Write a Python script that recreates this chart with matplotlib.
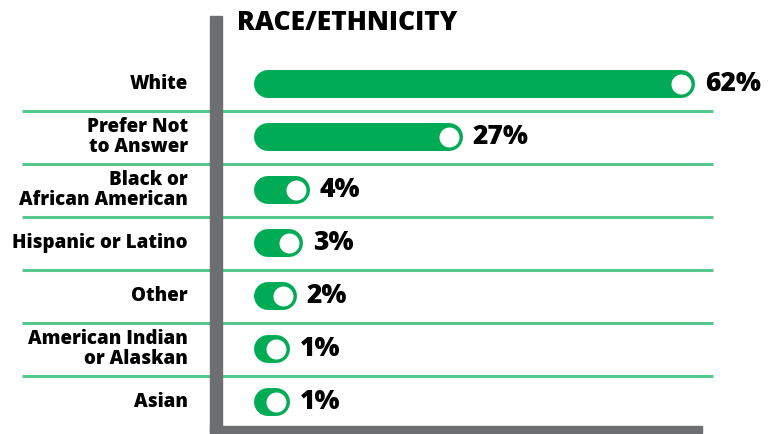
import matplotlib
matplotlib.use("Agg")
import matplotlib.pyplot as plt
from matplotlib.patches import Rectangle

categories = ["White", "Prefer Not\nto Answer", "Black or\nAfrican American",
              "Hispanic or Latino", "Other", "American Indian\nor Alaskan", "Asian"]
values = [62, 27, 4, 3, 2, 1, 1]
value_labels = ["62%", "27%", "4%", "3%", "2%", "1%", "1%"]
title = "RACE/ETHNICITY"

W, H = 782, 434
DPI = 100
GREEN = "#00ab55"
LINE_GREEN = "#55c98d"
GRAY = "#6d6e71"
FONT = ["Open Sans", "DejaVu Sans"]

fig = plt.figure(figsize=(W / DPI, H / DPI), dpi=DPI)
ax = fig.add_axes([0, 0, 1, 1])
ax.set_axis_off()

# scale: px per percent and bar start
k = 6.64
bar_start = -4.42
x_left = bar_start - 254 / k
ax.set_xlim(x_left, x_left + W / k)
row_px = 53.0
top_row_px = 84
ax.set_ylim((H - top_row_px) / row_px, -top_row_px / row_px)

def fx(px):
    return px / W

def fy(py):
    return 1 - py / H

# gray frame
fig.patches.append(Rectangle((fx(210), fy(433)), fx(12), (433 - 16) / H,
                             transform=fig.transFigure, color=GRAY, zorder=1))
fig.patches.append(Rectangle((fx(210), fy(433)), fx(702 - 210), 7 / H,
                             transform=fig.transFigure, color=GRAY, zorder=1))

# separators
ytr = ax.get_yaxis_transform()
for i in range(len(categories) - 1):
    ax.plot([fx(22), fx(713)], [i + 0.5, i + 0.5], transform=ytr,
            color=LINE_GREEN, lw=2.2, solid_capstyle="butt", zorder=3)

# bars
r = 14 / k  # cap radius in data units
bar_lw = 28 * 72 / DPI
for i, (v, lab) in enumerate(zip(values, value_labels)):
    x0 = bar_start + r
    x1 = max(v - r, x0 + 0.01)
    ax.plot([x0, x1], [i, i], color=GREEN, lw=bar_lw, solid_capstyle="round", zorder=4)
    ax.plot([x1], [i], marker="o", markersize=20 * 72 / DPI, color="white",
            markeredgewidth=0, zorder=5)
    ax.annotate(lab, (v, i), xytext=(7, 0), textcoords="offset points",
                ha="left", va="center", fontsize=19, fontweight="heavy",
                family=FONT, color="black", zorder=6)

for i, c in enumerate(categories):
    ax.text(fx(188), i, c, transform=ytr, ha="right", va="center",
            fontsize=13.5, fontweight="heavy", family=FONT, linespacing=1.0,
            color="black")

fig.text(fx(237), fy(10), title, ha="left", va="top", fontsize=19,
         fontweight="heavy", family=FONT, color="black")

fig.savefig("out.png", dpi=DPI)
